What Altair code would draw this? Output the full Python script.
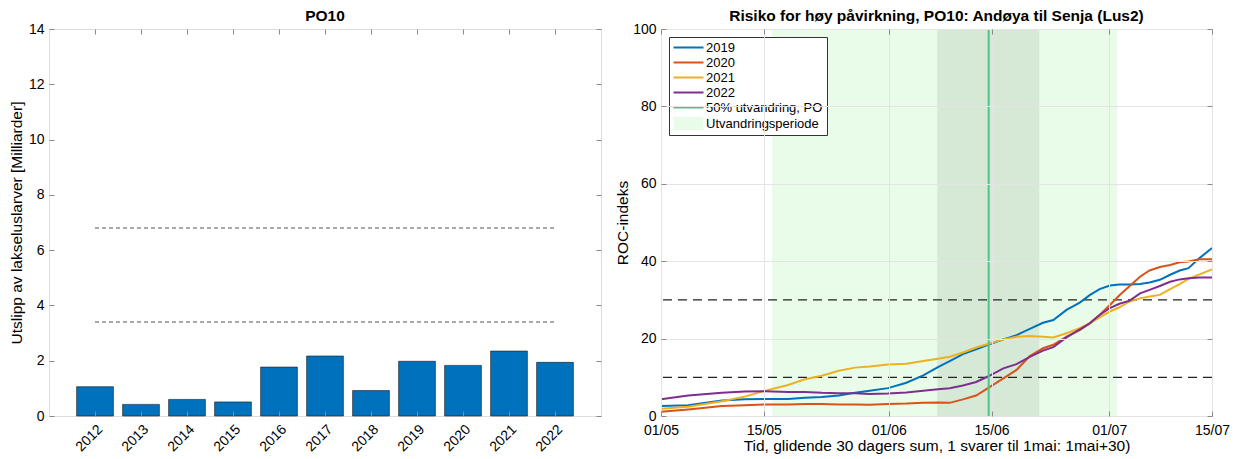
import altair as alt
import pandas as pd

FONT = "Liberation Sans, Helvetica, Arial, sans-serif"
TXT = "#262626"
BOX = "#8a8a8a"

# ---------------- left panel data ----------------
years = [2012, 2013, 2014, 2015, 2016, 2017, 2018, 2019, 2020, 2021, 2022]
emissions = [1.06, 0.42, 0.60, 0.51, 1.77, 2.17, 0.92, 1.98, 1.83, 2.35, 1.94]
left_thresholds = [3.4, 6.8]
left_yticks = [0, 2, 4, 6, 8, 10, 12, 14]

# ---------------- right panel data ----------------
days = [0, 3.7, 8.3, 11.4, 14.1, 17.3, 19.6, 21.9, 24.2, 26.4, 28.4, 30.9, 33.4,
        35.7, 37.7, 39.3, 41.1, 42.9, 44.5, 46.6, 48.4, 50.2, 52.0, 53.4, 55.2,
        57.0, 58.4, 59.7, 61.1, 62.4, 63.8, 65.2, 66.5, 67.9, 69.3, 70.6, 71.8,
        73.3, 75]
roc_2019 = [2.6, 2.8, 4.0, 4.3, 4.4, 4.4, 4.7, 4.9, 5.3, 6.0, 6.5, 7.2, 8.6,
            10.5, 12.6, 14.2, 16.0, 17.2, 18.4, 19.8, 20.9, 22.5, 24.1, 24.8, 27.4,
            29.3, 31.3, 32.8, 33.7, 34.0, 34.0, 34.1, 34.5, 35.2, 36.5, 37.6, 38.2,
            40.8, 43.4]
roc_2020 = [1.1, 1.7, 2.6, 2.8, 3.0, 3.0, 3.1, 3.1, 3.0, 3.0, 2.9, 3.1, 3.2,
            3.4, 3.5, 3.4, 4.3, 5.3, 7.2, 9.7, 11.9, 15.5, 17.5, 18.4, 20.5,
            22.2, 24.0, 26.1, 28.7, 31.2, 33.6, 36.0, 37.6, 38.5, 39.0, 39.7, 39.9,
            40.5, 40.5]
roc_2021 = [1.9, 2.4, 3.8, 5.0, 6.5, 8.0, 9.5, 10.4, 11.7, 12.5, 12.8, 13.3, 13.5,
            14.2, 14.8, 15.3, 16.4, 17.7, 18.6, 19.8, 20.5, 20.7, 20.5, 20.3, 21.4,
            22.7, 24.0, 25.5, 27.0, 28.1, 29.6, 30.4, 30.9, 31.3, 32.8, 34.1, 35.4,
            36.6, 37.9]
roc_2022 = [4.3, 5.3, 6.0, 6.3, 6.4, 6.2, 6.2, 6.0, 5.9, 5.9, 5.7, 5.8, 6.1,
            6.5, 6.9, 7.2, 7.9, 8.8, 10.2, 12.3, 13.4, 15.3, 16.9, 17.8, 20.3,
            22.4, 24.0, 26.1, 27.9, 29.0, 29.8, 31.7, 32.6, 33.6, 34.7, 35.3, 35.6,
            35.8, 35.8]
series_names = ["2019", "2020", "2021", "2022"]
series_colors = ["#0072BD", "#D95319", "#EDB120", "#7E2F8E"]
right_thresholds = [10, 30]
period_start, period_end = 15.1, 62.1
peak_start, peak_end = 37.6, 51.5
median_day = 44.6
tick_days = [0, 14, 31, 45, 61, 75]
tick_labels = ["01/05", "15/05", "01/06", "15/06", "01/07", "15/07"]
right_yticks = [0, 20, 40, 60, 80, 100]
legend_names = series_names + ["50% utvandring, PO", "Utvandringsperiode"]
GREEN = "#4DC38A"
LIGHT = "#E9FCE9"
DARK = "#D6E9D6"
legend_colors = series_colors + [GREEN, LIGHT]

# ---------------- tables ----------------
bars_df = pd.DataFrame({"year": years, "value": emissions})
lthr_df = pd.DataFrame({"y": left_thresholds, "xs": years[0], "xe": years[-1]})

rows = []
for name, vals in zip(series_names, [roc_2019, roc_2020, roc_2021, roc_2022]):
    for d, v in zip(days, vals):
        rows.append({"day": d, "value": v, "series": name})
lines_df = pd.DataFrame(rows)
period_df = pd.DataFrame({"s": [period_start], "e": [period_end]})
peak_df = pd.DataFrame({"s": [peak_start], "e": [peak_end]})
rthr_df = pd.DataFrame({"y": right_thresholds})
med_df = pd.DataFrame({"day": [median_day]})
leg_df = pd.DataFrame({"series": legend_names})

TICK_FS = 14
TITLE_FS = 15.5


def ax(**kw):
    base = dict(offset=-5, tickSize=5, domain=False, tickColor=BOX, tickWidth=1,
                labelPadding=3, labelFlush=False, grid=False, zindex=1, title=None)
    base.update(kw)
    return alt.Axis(**base)


# ---------------- left chart ----------------
xl = alt.Scale(domain=[2011, 2023], nice=False, zero=False)
yl = alt.Scale(domain=[0, 14], nice=False)

bars = alt.Chart(bars_df).transform_calculate(
    x0="datum.year - 0.4", x1="datum.year + 0.4"
).mark_bar(color="#0072BD", stroke="#1a1a1a", strokeWidth=0.6).encode(
    x=alt.X("x0:Q", scale=xl, axis=ax(values=years, format="d", labelAngle=315,
                                      labelFontSize=TICK_FS, labelPadding=6)),
    x2="x1:Q",
    y=alt.Y("value:Q", scale=yl, axis=ax(values=left_yticks, labelFontSize=TICK_FS,
                                         labelPadding=5,
                                         title="Utslipp av lakseluslarver [Milliarder]",
                                         titleFontSize=TITLE_FS, titleFontWeight="normal",
                                         titlePadding=4)),
    y2=alt.datum(0),
)
lrules = alt.Chart(lthr_df).mark_rule(color="#555555", strokeDash=[4, 3], strokeWidth=1).encode(
    x=alt.X("xs:Q", scale=xl, axis=ax(orient="top", values=years, labels=False)),
    x2="xe:Q",
    y=alt.Y("y:Q", scale=yl, axis=ax(orient="right", values=left_yticks, labels=False)),
)
left = alt.layer(bars, lrules).resolve_axis(x="independent", y="independent").properties(
    width=552, height=387,
    title=alt.Title("PO10", fontSize=TITLE_FS, fontWeight="bold", font=FONT, color="black",
                    anchor="middle", frame="group", offset=-2),
)

# ---------------- right chart ----------------
xr = alt.Scale(domain=[0, 75], nice=False, zero=False)
yr = alt.Scale(domain=[0, 100], nice=False)
label_expr = "{" + ",".join(f"'{d}':'{l}'" for d, l in zip(tick_days, tick_labels)) + "}[datum.value]"

period = alt.Chart(period_df).mark_rect(color=LIGHT).encode(
    x=alt.X("s:Q", scale=xr, axis=None), x2="e:Q")
peak = alt.Chart(peak_df).mark_rect(color=DARK).encode(
    x=alt.X("s:Q", scale=xr, axis=None), x2="e:Q")
rrules = alt.Chart(rthr_df).mark_rule(color="#222222", strokeDash=[9, 6], strokeWidth=1.3).encode(
    y=alt.Y("y:Q", scale=yr, axis=ax(orient="right", values=right_yticks, labels=False,
                                     grid=True, gridColor="#e4e4e4", gridWidth=1)),
)
lines = alt.Chart(lines_df).mark_line(strokeWidth=2).encode(
    x=alt.X("day:Q", scale=xr, axis=ax(values=tick_days, labelExpr=label_expr,
                                       labelFontSize=TICK_FS, labelPadding=7,
                                       title="Tid, glidende 30 dagers sum, 1 svarer til 1mai: 1mai+30)",
                                       titleFontSize=TITLE_FS, titleFontWeight="normal",
                                       titlePadding=1)),
    y=alt.Y("value:Q", scale=yr, axis=ax(values=right_yticks, labelFontSize=TICK_FS,
                                         labelPadding=5,
                                         title="ROC-indeks", titleFontSize=TITLE_FS,
                                         titleFontWeight="normal", titlePadding=2)),
    stroke=alt.Stroke("series:N", scale=alt.Scale(domain=series_names, range=series_colors),
                      legend=None),
)
med = alt.Chart(med_df).mark_rule(color=GREEN, strokeWidth=2).encode(
    x=alt.X("day:Q", scale=xr, axis=ax(orient="top", values=tick_days, labels=False,
                                       grid=True, gridColor="#e4e4e4", gridWidth=1)),
)
line_sym = "M-3,-0.2H3V0.2H-3Z"
rect_sym = "M-3,-1.35H3V1.35H-3Z"
leg_kw = dict(title=None, orient="top-left", offset=8, padding=4, strokeColor="#333333",
              fillColor="white", labelFontSize=13, labelFont=FONT, labelColor="black",
              symbolSize=100, symbolStrokeWidth=0, symbolOpacity=1, symbolOffset=9,
              labelOffset=11, rowPadding=1, cornerRadius=0)
leg = alt.Chart(leg_df).transform_filter("false").mark_point(filled=True, opacity=1).encode(
    color=alt.Color("series:N", scale=alt.Scale(domain=legend_names, range=legend_colors),
                    legend=alt.Legend(**leg_kw)),
    shape=alt.Shape("series:N", scale=alt.Scale(domain=legend_names,
                                                range=[line_sym] * 5 + [rect_sym]),
                    legend=alt.Legend(**leg_kw)),
)
right = alt.layer(period, peak, rrules, lines, med, leg).resolve_axis(
    x="independent", y="independent"
).properties(
    width=551, height=387,
    title=alt.Title("Risiko for høy påvirkning, PO10: Andøya til Senja (Lus2)", fontSize=TITLE_FS,
                    fontWeight="bold", font=FONT, color="black", anchor="middle",
                    frame="group", offset=-2),
)

chart = alt.hconcat(left, right, spacing=13).resolve_scale(
    color="independent", shape="independent"
).resolve_legend(color="independent", shape="independent").properties(
    padding={"left": 0, "top": 0, "right": 0, "bottom": 0}
).configure_view(stroke=BOX, strokeWidth=1).configure_axis(
    labelFont=FONT, titleFont=FONT, labelColor=TXT, titleColor=TXT
).configure(background="white")

chart.save("out.html", embed_options={"renderer": "svg", "actions": False})
